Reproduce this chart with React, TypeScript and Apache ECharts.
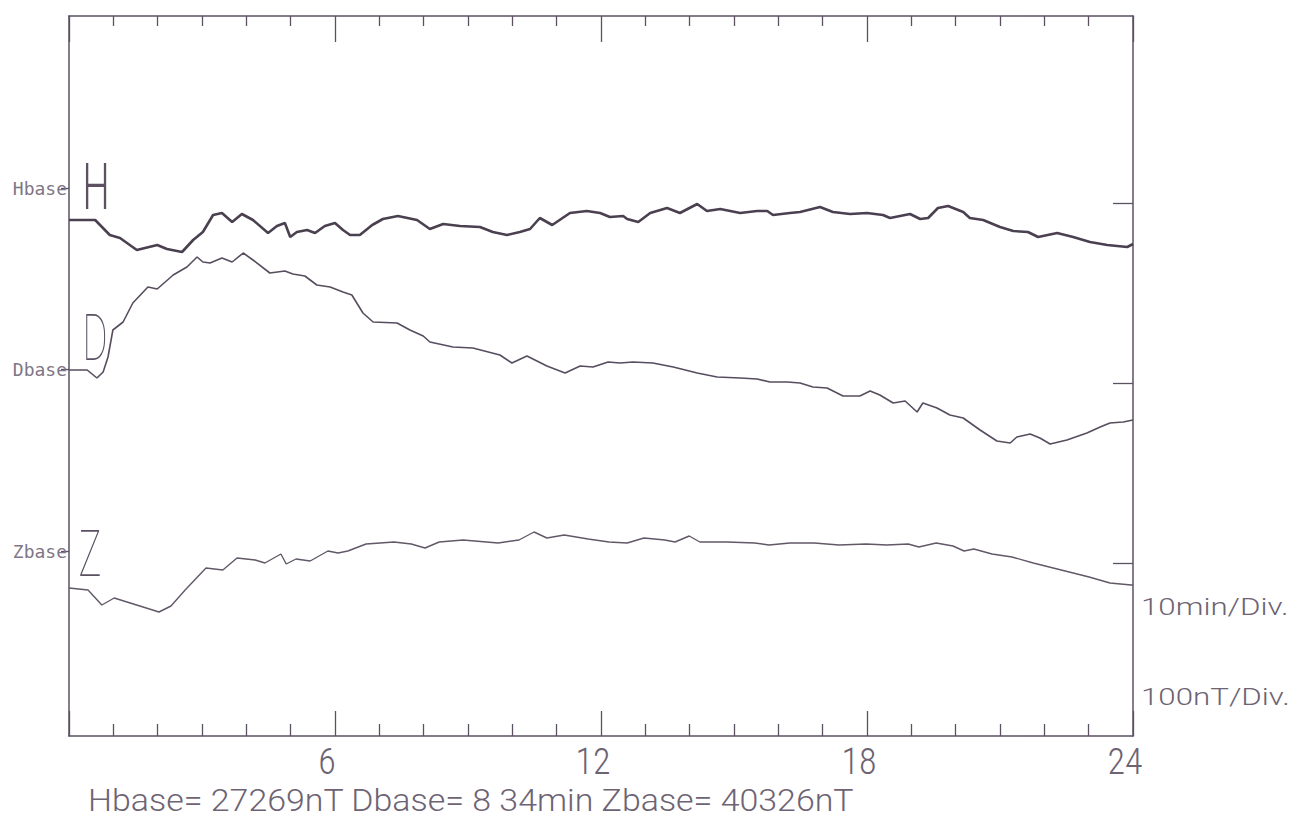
import React, { useEffect, useRef } from "react";
import * as echarts from "echarts";

// Time axis (hours UT) and tick labels
const X_MIN = 0;
const X_MAX = 24;
const X_MAJOR = 6;
const Y_MIN = 0;
const Y_MAX = 720;

// Base-level marks (left and right edges of the plot)
const BASE_NAMES = ["Hbase", "Dbase", "Zbase"];
const BASE_LEFT = [548, 367, 185];
const BASE_RIGHT = [533, 353, 173];

// Traces: [hour, plotted value]
const H_TRACE: [number, number][] = [
  [0, 516], [0.59, 516], [0.92, 501], [1.15, 498], [1.53, 486], [1.99, 491], [2.21, 487], [2.55, 484],
  [2.8, 496], [3.02, 504], [3.25, 521], [3.45, 523], [3.68, 514], [3.9, 522], [4.15, 516], [4.49, 503],
  [4.69, 510], [4.87, 513], [4.99, 499], [5.14, 504], [5.37, 506], [5.55, 503], [5.77, 510], [6.0, 513],
  [6.18, 506], [6.34, 501], [6.56, 501], [6.84, 511], [7.08, 517], [7.42, 520], [7.85, 516], [8.14, 507],
  [8.44, 512], [8.82, 510], [9.27, 509], [9.56, 504], [9.88, 501], [10.17, 504], [10.4, 507], [10.62, 518],
  [10.9, 511], [11.3, 523], [11.68, 525], [11.98, 523], [12.2, 519], [12.5, 520], [12.59, 517], [12.84, 514],
  [13.11, 523], [13.49, 528], [13.78, 523], [14.17, 532], [14.39, 525], [14.69, 527], [15.14, 523], [15.52, 525],
  [15.75, 525], [15.88, 521], [16.26, 523], [16.49, 524], [16.94, 529], [17.23, 524], [17.62, 522], [18.0, 523],
  [18.36, 521], [18.52, 518], [18.97, 522], [19.2, 517], [19.38, 518], [19.6, 528], [19.83, 530], [20.17, 524],
  [20.32, 518], [20.62, 516], [21.0, 509], [21.3, 505], [21.63, 504], [21.86, 499], [22.29, 503], [22.65, 499],
  [23.03, 494], [23.42, 491], [23.87, 489], [24, 492],
];

const D_TRACE: [number, number][] = [
  [0, 366], [0.41, 366], [0.63, 358], [0.77, 364], [0.88, 379], [0.99, 406], [1.22, 414], [1.44, 433],
  [1.78, 449], [1.99, 447], [2.35, 461], [2.66, 469], [2.89, 479], [3.02, 474], [3.18, 473], [3.45, 478],
  [3.68, 474], [3.93, 483], [4.15, 476], [4.53, 463], [4.87, 465], [5.05, 462], [5.32, 460], [5.59, 451],
  [5.89, 449], [6.18, 444], [6.38, 441], [6.63, 423], [6.86, 414], [7.4, 413], [7.69, 406], [7.99, 400],
  [8.14, 394], [8.66, 389], [9.11, 388], [9.72, 381], [9.99, 373], [10.33, 380], [10.78, 370], [11.19, 363],
  [11.53, 370], [11.82, 369], [12.16, 374], [12.43, 373], [12.72, 374], [13.17, 373], [13.63, 369], [14.17, 363],
  [14.62, 359], [15.14, 358], [15.52, 357], [15.81, 354], [16.2, 354], [16.49, 353], [16.78, 349], [17.1, 348],
  [17.46, 340], [17.84, 340], [18.07, 345], [18.29, 341], [18.59, 333], [18.86, 335], [19.13, 324], [19.26, 333],
  [19.58, 328], [19.87, 321], [20.17, 318], [20.55, 306], [20.93, 295], [21.23, 293], [21.38, 299], [21.68, 302],
  [21.9, 298], [22.13, 292], [22.51, 296], [22.96, 303], [23.26, 309], [23.48, 313], [23.78, 314], [24, 316],
];

const Z_TRACE: [number, number][] = [
  [0, 148], [0.43, 146], [0.74, 131], [1.02, 138], [1.38, 133], [1.67, 129], [2.03, 124], [2.3, 130],
  [2.62, 146], [3.09, 168], [3.47, 166], [3.79, 178], [4.2, 176], [4.42, 173], [4.78, 182], [4.9, 172],
  [5.12, 177], [5.44, 175], [5.84, 185], [6.07, 183], [6.29, 185], [6.7, 192], [7.33, 194], [7.72, 192],
  [8.03, 188], [8.35, 194], [8.89, 196], [9.68, 193], [10.15, 196], [10.49, 204], [10.78, 198], [11.17, 201],
  [11.71, 197], [12.18, 194], [12.59, 193], [12.97, 198], [13.44, 196], [13.67, 194], [13.99, 200], [14.23, 194],
  [14.84, 194], [15.47, 193], [15.79, 191], [16.26, 193], [16.81, 193], [17.37, 191], [17.98, 192], [18.45, 191],
  [18.93, 192], [19.17, 189], [19.56, 193], [19.94, 190], [20.19, 185], [20.41, 187], [20.82, 182], [21.27, 179],
  [21.75, 173], [22.38, 166], [23.01, 159], [23.48, 153], [23.96, 151], [24, 151],
];

const FOOTER_TEXT = "Hbase= 27269nT Dbase= 8 34min Zbase= 40326nT";
const SCALE_TIME = "10min/Div.";
const SCALE_FIELD = "100nT/Div.";

const INK = "#5b5162";
const TEXT_INK = "#6d6373";
const FONT = 'Roboto, "DejaVu Sans", sans-serif';
const NARROW = '"Liberation Sans Narrow", "Roboto Condensed", Roboto, sans-serif';
const MONO = '"DejaVu Sans Mono", monospace';

export default function App() {
  const ref = useRef<HTMLDivElement>(null);

  useEffect(() => {
    if (!ref.current) return;
    const chart = echarts.init(ref.current, undefined, { renderer: "svg" });
    const axisLine = { show: true, onZero: false, lineStyle: { color: INK, width: 1.5 } };
    const tickStyle = { color: INK, width: 1.3 };

    const bigLetter = (text: string, x: number, y: number, weight: number) => ({
      type: "text",
      x,
      y,
      scaleX: 0.6,
      style: {
        text,
        fontSize: 64,
        fontFamily: FONT,
        fontWeight: weight,
        fill: INK,
        align: "center",
        verticalAlign: "middle",
        textAlign: "center",
        textVerticalAlign: "middle",
      },
    });

    const sideText = (text: string, y: number) => ({
      type: "text",
      x: 1141,
      y,
      scaleX: 1.36,
      style: {
        text,
        fontSize: 23,
        fontFamily: FONT,
        fontWeight: 300,
        fill: TEXT_INK,
        verticalAlign: "middle",
        textVerticalAlign: "middle",
      },
    });

    chart.setOption({
      animation: false,
      backgroundColor: "#ffffff",
      grid: { left: 69, right: 166, top: 16, bottom: 85, containLabel: false },
      xAxis: [
        {
          type: "value",
          position: "bottom",
          min: X_MIN,
          max: X_MAX,
          interval: X_MAJOR,
          axisLine,
          axisTick: { show: true, inside: true, length: 25, lineStyle: tickStyle },
          minorTick: { show: true, splitNumber: 6, length: 12, lineStyle: tickStyle },
          splitLine: { show: false },
          axisLabel: {
            formatter: (v: number) => (v === 0 ? "" : String(v)),
            fontSize: 36,
            fontFamily: NARROW,
            fontWeight: 300,
            color: TEXT_INK,
            margin: 8,
            padding: [0, 16, 0, 0],
          },
        },
        {
          type: "value",
          position: "top",
          min: X_MIN,
          max: X_MAX,
          interval: X_MAJOR,
          axisLine,
          axisTick: { show: true, inside: true, length: 26, lineStyle: tickStyle },
          minorTick: { show: true, splitNumber: 6, length: 10, lineStyle: tickStyle },
          splitLine: { show: false },
          axisLabel: { show: false },
        },
      ],
      yAxis: [
        {
          type: "value",
          position: "left",
          min: Y_MIN,
          max: Y_MAX,
          axisLine,
          splitLine: { show: false },
          axisTick: { show: true, inside: false, length: 8, customValues: BASE_LEFT, lineStyle: tickStyle },
          axisLabel: {
            customValues: BASE_LEFT,
            formatter: (v: number) => BASE_NAMES[BASE_LEFT.indexOf(v)] ?? "",
            fontSize: 18,
            fontFamily: MONO,
            color: "#807686",
            margin: 2,
          },
        },
        {
          type: "value",
          position: "right",
          min: Y_MIN,
          max: Y_MAX,
          axisLine,
          splitLine: { show: false },
          axisTick: { show: true, inside: true, length: 20, customValues: BASE_RIGHT, lineStyle: tickStyle },
          axisLabel: { show: false },
        },
      ],
      series: [
        {
          name: "H",
          type: "line",
          data: H_TRACE,
          showSymbol: false,
          symbol: "none",
          lineStyle: { color: "#4a4050", width: 2.6 },
        },
        {
          name: "D",
          type: "line",
          data: D_TRACE,
          showSymbol: false,
          symbol: "none",
          lineStyle: { color: "#574d5e", width: 1.6 },
        },
        {
          name: "Z",
          type: "line",
          data: Z_TRACE,
          showSymbol: false,
          symbol: "none",
          lineStyle: { color: "#625868", width: 1.4 },
        },
      ],
      graphic: [
        bigLetter("H", 96, 187, 300),
        bigLetter("D", 95, 338, 100),
        bigLetter("Z", 90, 554, 100),
        sideText(SCALE_TIME, 607),
        sideText(SCALE_FIELD, 697),
        {
          type: "text",
          x: 88,
          y: 800,
          scaleX: 1.06,
          style: {
            text: FOOTER_TEXT,
            fontSize: 32,
            fontFamily: FONT,
            fontWeight: 300,
            fill: TEXT_INK,
            verticalAlign: "middle",
            textVerticalAlign: "middle",
          },
        },
      ],
    });
    return () => chart.dispose();
  }, []);

  return (
    <div
      ref={ref}
      style={{ position: "fixed", left: 0, top: 0, width: 1299, height: 821, background: "#fff" }}
    />
  );
}
